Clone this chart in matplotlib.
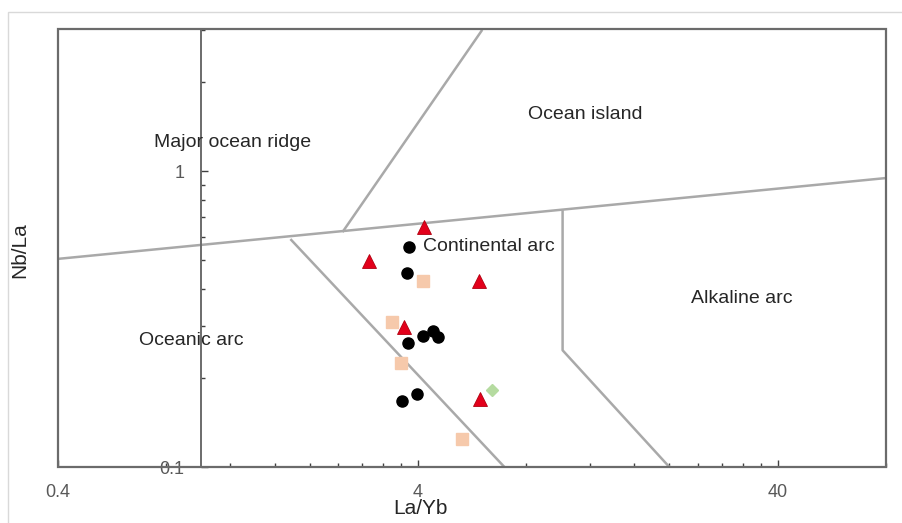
import matplotlib
matplotlib.use("Agg")
import matplotlib.pyplot as plt
from matplotlib.ticker import FixedLocator, NullFormatter, FixedFormatter
from matplotlib.patches import Rectangle

plt.rcParams['font.family'] = ['Liberation Sans', 'DejaVu Sans']

# ---- data (La/Yb, Nb/La) ----
circle_x = [3.79, 3.74, 3.76, 4.14, 4.42, 4.56, 3.62, 3.99]
circle_y = [0.554, 0.452, 0.262, 0.277, 0.288, 0.275, 0.167, 0.177]

triangle_x = [4.17, 2.93, 5.93, 3.65, 5.97]
triangle_y = [0.647, 0.496, 0.425, 0.297, 0.170]

square_x = [4.14, 3.40, 3.60, 5.29]
square_y = [0.425, 0.309, 0.225, 0.124]

diamond_x = [6.44]
diamond_y = [0.182]

# field boundaries of the discrimination diagram (La/Yb, Nb/La)
boundaries = [
    ([0.4, 80], [0.505, 0.947]),        # arc / non-arc
    ([2.47, 6.04], [0.622, 3.0]),       # MORB / OIB
    ([1.77, 6.96], [0.589, 0.1]),       # oceanic / continental arc
    ([10.1, 10.1, 20.0], [0.738, 0.248, 0.1]),  # continental / alkaline arc
]

field_labels = ["Major ocean ridge", "Ocean island", "Continental arc",
                "Alkaline arc", "Oceanic arc"]

x_major = [0.4, 4, 40]
x_major_labels = ["0.4", "4", "40"]
y_major = [0.1, 1]
y_major_labels = ["0.1", "1"]

fig = plt.figure(figsize=(9.03, 5.23), dpi=100)
fig.patches.append(Rectangle((8/903, -0.1), 1.2, 1 - 12/523 + 0.1,
                             transform=fig.transFigure, fill=False,
                             edgecolor='#d9d9d9', linewidth=1.0))
ax = fig.add_axes([58/903, 1 - 467/523, (886-58)/903, (467-29)/523])
ax.set_xscale('log')
ax.set_yscale('log')
ax.set_xlim(0.4, 80)
ax.set_ylim(0.1, 3.02)

frame_col = '#6b6b6b'
line_col = '#a9a9a9'

for xs, ys in boundaries:
    ax.plot(xs, ys, color=line_col, lw=1.8, solid_capstyle='butt', zorder=2)

ax.plot(circle_x, circle_y, 'o', color='black', markersize=8, zorder=4)
ax.plot(square_x, square_y, 's', color='#f6c9ab', markersize=8, zorder=3)
ax.plot(diamond_x, diamond_y, 'D', color='#b5dba0', markersize=6, zorder=3)
ax.plot(triangle_x, triangle_y, '^', color='#e3001b', markeredgecolor='#b0000f',
        markeredgewidth=0.6, markersize=10, zorder=5)

# spines
ax.spines['left'].set_position(('data', 1))
for s in ['top', 'right', 'bottom', 'left']:
    ax.spines[s].set_color(frame_col)
    ax.spines[s].set_linewidth(1.4)
ax.add_patch(Rectangle((0, 0), 1, 1, transform=ax.transAxes, fill=False,
                       edgecolor=frame_col, linewidth=1.6, clip_on=False, zorder=6))

# ticks
x_minor = [0.4 * k for k in range(2, 10)] + [4 * k for k in range(2, 10)] + [40 * k for k in range(2, 3)]
ax.xaxis.set_major_locator(FixedLocator(x_major))
ax.xaxis.set_major_formatter(FixedFormatter(x_major_labels))
ax.xaxis.set_minor_locator(FixedLocator(x_minor))
ax.xaxis.set_minor_formatter(NullFormatter())
y_minor = [0.1 * k for k in range(2, 10)] + [k for k in range(2, 4)]
ax.yaxis.set_major_locator(FixedLocator(y_major))
ax.yaxis.set_major_formatter(FixedFormatter(y_major_labels))
ax.yaxis.set_minor_locator(FixedLocator(y_minor))
ax.yaxis.set_minor_formatter(NullFormatter())

ax.tick_params(axis='both', which='major', direction='in', length=5, width=1.0,
               color='#404040', labelsize=13, labelcolor='#595959', pad=12)
ax.tick_params(axis='both', which='minor', direction='in', length=3, width=1.0,
               color='#404040')
ax.tick_params(axis='y', which='both', right=False)
ax.tick_params(axis='x', which='both', top=False)

ax.set_xlabel("La/Yb", fontsize=15, color='#262626')
ax.xaxis.set_label_coords((420-58)/(886-58), -(499-467)/(467-29))
ax.set_ylabel("Nb/La", fontsize=15, color='#262626')
ax.yaxis.set_label_coords(-(58-29)/(886-58), (467-250)/(467-29))

txt_kw = dict(fontsize=14, color='#262626', zorder=7)
ax.text(1.22, 1.25, field_labels[0], ha='center', va='center', **txt_kw)
ax.text(11.7, 1.55, field_labels[1], ha='center', va='center', **txt_kw)
ax.text(4.14, 0.558, field_labels[2], ha='left', va='center', **txt_kw)
ax.text(31.8, 0.372, field_labels[3], ha='center', va='center', **txt_kw)
ax.text(0.938, 0.267, field_labels[4], ha='center', va='center', **txt_kw)

fig.savefig("out.png", dpi=100)
